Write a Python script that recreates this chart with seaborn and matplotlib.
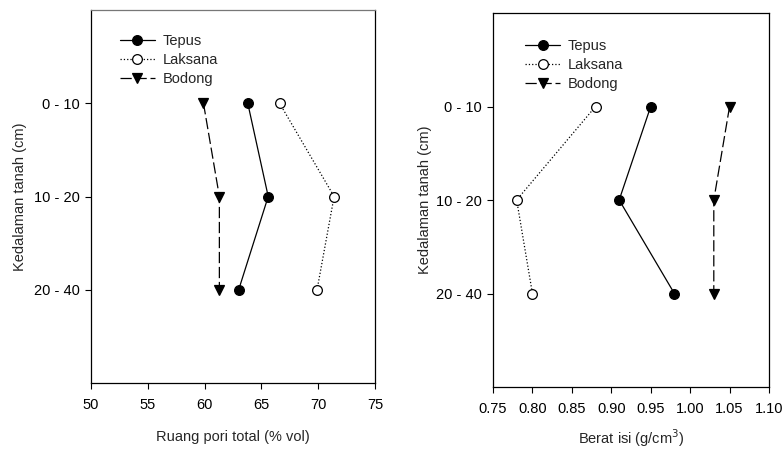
import matplotlib
matplotlib.use("Agg")
import matplotlib.pyplot as plt
import seaborn as sns
import pandas as pd

sns.set_theme(style="ticks")
plt.rcParams['font.family'] = ['Liberation Sans', 'DejaVu Sans']

depths = ["0 - 10", "10 - 20", "20 - 40"]
depth_pos = [1, 2, 3]
series = ["Tepus", "Laksana", "Bodong"]

pori_tepus = [63.8, 65.6, 63.0]
pori_laksana = [66.6, 71.4, 69.9]
pori_bodong = [59.9, 61.3, 61.3]

bi_tepus = [0.95, 0.91, 0.98]
bi_laksana = [0.88, 0.78, 0.80]
bi_bodong = [1.05, 1.03, 1.03]

styles = {
    "Tepus": dict(marker="o", markerfacecolor="black", linestyle="-"),
    "Laksana": dict(marker="o", markerfacecolor="white", linestyle=":"),
    "Bodong": dict(marker="v", markerfacecolor="black", linestyle=(0, (9, 3))),
}

FS = 10.5

fig = plt.figure(figsize=(7.84, 4.49), dpi=100)
ax1 = fig.add_axes([91/784, 66/449, 284/784, 373/449])
ax2 = fig.add_axes([493/784, 62/449, 276/784, 374/449])

def draw(ax, vals, xlim, xticks, xticklabels, xlabel, legend_anchor,
         ylabelpad, xlabelpad, top_color):
    for name, v in zip(series, vals):
        df = pd.DataFrame({"x": v, "y": depth_pos})
        st = styles[name]
        sns.lineplot(data=df, x="x", y="y", sort=False, orient="y", ax=ax,
                     color="black", linewidth=0.9, marker=st["marker"],
                     markersize=7, markerfacecolor=st["markerfacecolor"],
                     markeredgecolor="black", markeredgewidth=0.9,
                     linestyle=st["linestyle"], label=name)
    ax.set_xlim(*xlim)
    ax.set_ylim(4, 0)
    ax.set_xticks(xticks)
    ax.set_xticklabels(xticklabels)
    ax.set_yticks(depth_pos)
    ax.set_yticklabels(depths)
    ax.set_xlabel(xlabel, fontsize=FS, labelpad=xlabelpad)
    ax.set_ylabel("Kedalaman tanah (cm)", fontsize=FS, labelpad=ylabelpad)
    ax.tick_params(axis="both", labelsize=FS, direction="out", length=4,
                   width=0.8, color="black", labelcolor="black", pad=4)
    ax.tick_params(axis="x", pad=7)
    ax.tick_params(top=False, right=False)
    for sp in ax.spines.values():
        sp.set_visible(True)
        sp.set_color("black")
        sp.set_linewidth(0.9)
    ax.spines["top"].set_color(top_color)
    ax.set_facecolor("white")
    ax.grid(False)
    ax.legend(loc="upper left", bbox_to_anchor=legend_anchor, frameon=False,
              fontsize=FS, handlelength=2.4, handletextpad=0.5,
              labelspacing=0.33, borderaxespad=0, borderpad=0)

draw(ax1, [pori_tepus, pori_laksana, pori_bodong], (50, 75),
     [50, 55, 60, 65, 70, 75], ["50", "55", "60", "65", "70", "75"],
     "Ruang pori total (% vol)", (0.102, 0.935), 5, 13, "#777777")
draw(ax2, [bi_tepus, bi_laksana, bi_bodong], (0.75, 1.10),
     [0.75, 0.80, 0.85, 0.90, 0.95, 1.00, 1.05, 1.10],
     ["0.75", "0.80", "0.85", "0.90", "0.95", "1.00", "1.05", "1.10"],
     "Berat isi (g/cm$^3$)", (0.116, 0.93), 3, 8, "black")

fig.savefig("out.png", dpi=100, facecolor="white")
